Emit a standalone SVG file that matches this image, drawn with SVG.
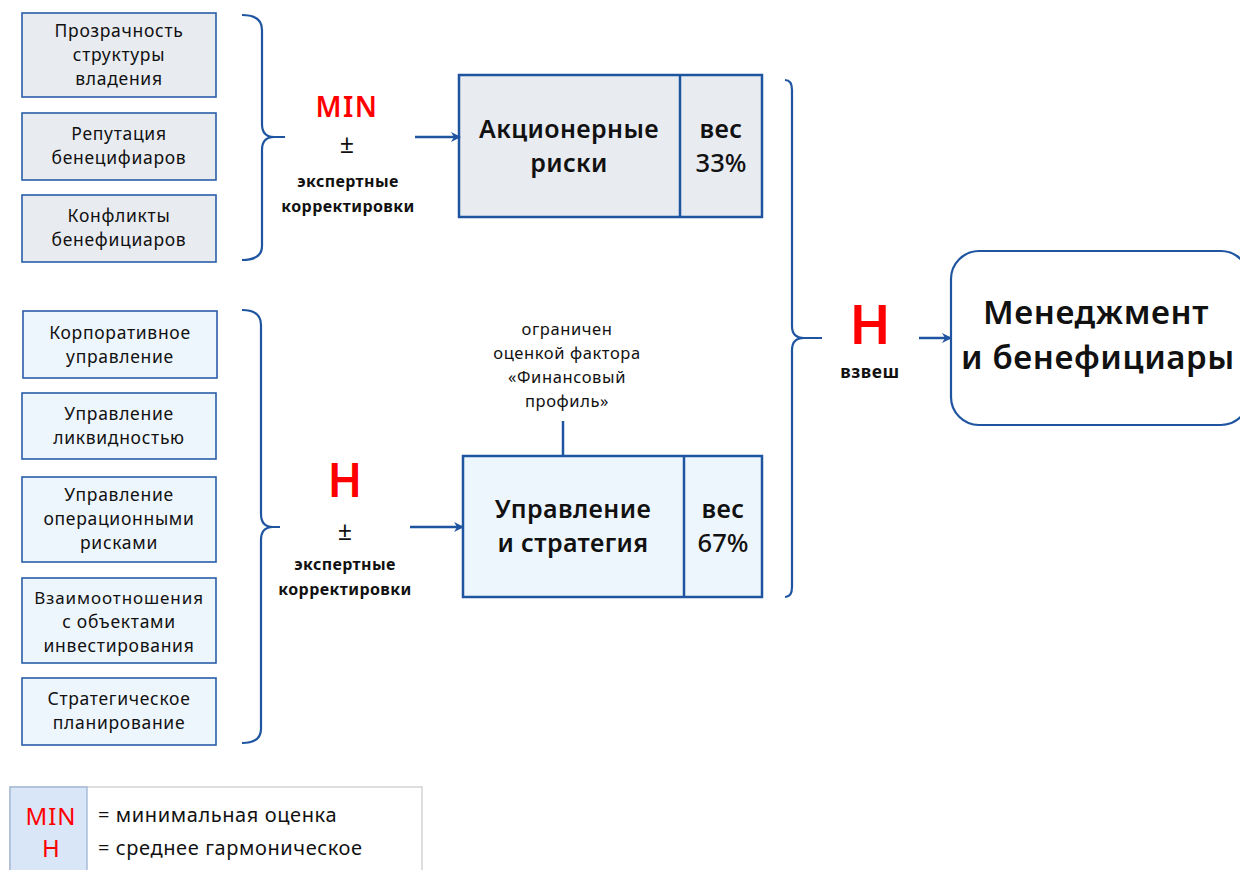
<svg xmlns="http://www.w3.org/2000/svg" width="1240" height="870" viewBox="0 0 1240 870">
<defs>
<marker id="arr" viewBox="0 0 10 10" refX="9" refY="5" markerWidth="10" markerHeight="10" markerUnits="userSpaceOnUse" orient="auto">
<path d="M0,0 L10,5 L0,10 L3,5 z" fill="#1f55a0"/>
</marker>
<style>
text{font-family:"Noto Sans","Open Sans","DejaVu Sans",sans-serif;fill:#111;text-anchor:middle}
.f{fill:#e8ebf0;stroke:#2a5ea8;stroke-width:1.6}
.g{fill:#eef6fd;stroke:#2a5ea8;stroke-width:1.6}
.big{stroke:#1f55a0;stroke-width:2.5}
.t{font-size:17.5px;letter-spacing:0.7px}
.b{font-size:25px;font-weight:600;letter-spacing:0.4px}
.brace{fill:none;stroke:#1f55a0;stroke-width:2.2}
.ln{fill:none;stroke:#1f55a0;stroke-width:2.5}
.red{fill:#ff0000;font-weight:600}
.ek{font-size:16px;font-weight:700;letter-spacing:0.4px}
.pm{font-size:25px}
.an{font-size:16.5px;letter-spacing:0.6px}
</style>
</defs>
<rect width="1240" height="870" fill="#ffffff"/>

<g id="n1"><rect class="f" x="22" y="13" width="194" height="84"/><text class="t" x="119" y="37">Прозрачность</text><text class="t" x="119" y="61">структуры</text><text class="t" x="119" y="85">владения</text></g>
<g id="n2"><rect class="f" x="22" y="113" width="194" height="67"/><text class="t" x="119" y="140">Репутация</text><text class="t" x="119" y="164">бенецифиаров</text></g>
<g id="n3"><rect class="f" x="22" y="195" width="194" height="67"/><text class="t" x="119" y="222">Конфликты</text><text class="t" x="119" y="246">бенефициаров</text></g>

<g id="n4"><rect class="g" x="23" y="311" width="194" height="67"/><text class="t" x="120" y="339">Корпоративное</text><text class="t" x="120" y="363">управление</text></g>
<g id="n5"><rect class="g" x="22" y="393" width="194" height="66"/><text class="t" x="119" y="420">Управление</text><text class="t" x="119" y="444">ликвидностью</text></g>
<g id="n6"><rect class="g" x="22" y="477" width="194" height="85"/><text class="t" x="119" y="501">Управление</text><text class="t" x="119" y="525">операционными</text><text class="t" x="119" y="549">рисками</text></g>
<g id="n7"><rect class="g" x="22" y="578" width="194" height="85"/><text class="t" x="119" y="604" style="font-size:17px;letter-spacing:0.9px">Взаимоотношения</text><text class="t" x="119" y="628">с объектами</text><text class="t" x="119" y="652">инвестирования</text></g>
<g id="n8"><rect class="g" x="22" y="678" width="194" height="67"/><text class="t" x="119" y="705">Стратегическое</text><text class="t" x="119" y="729">планирование</text></g>

<g id="op1"><text class="red" x="347" y="117" style="font-size:28px;letter-spacing:1.5px">MIN</text><text class="pm" x="347" y="153">±</text><text class="ek" x="348" y="187">экспертные</text><text class="ek" x="348" y="212">корректировки</text></g>
<g id="op2"><text class="red" x="345" y="497" style="font-size:46px">H</text><text class="pm" x="345" y="540">±</text><text class="ek" x="345" y="570">экспертные</text><text class="ek" x="345" y="595">корректировки</text></g>
<g id="op3"><text class="red" x="870" y="344" style="font-size:55px">H</text><text x="870" y="378" style="font-size:17.5px;font-weight:700;letter-spacing:0.5px">взвеш</text></g>

<g id="n9"><rect class="f big" x="459" y="75" width="303" height="142"/><line class="big" x1="680" y1="75" x2="680" y2="217"/><text class="b" x="569" y="138">Акционерные</text><text class="b" x="569" y="172">риски</text><text class="b" x="721" y="138">вес</text><text x="721" y="172" style="font-size:25.5px;font-weight:500">33%</text></g>
<g id="n10"><rect class="g big" x="463" y="456" width="299" height="141"/><line class="big" x1="684" y1="456" x2="684" y2="597"/><text class="b" x="573" y="518">Управление</text><text class="b" x="573" y="552">и стратегия</text><text class="b" x="723" y="518">вес</text><text x="723" y="552" style="font-size:25.5px;font-weight:500">67%</text></g>

<g id="note"><text class="an" x="567" y="335">ограничен</text><text class="an" x="567" y="359">оценкой фактора</text><text class="an" x="567" y="383">«Финансовый</text><text class="an" x="567" y="407">профиль»</text></g>

<g id="n11"><rect x="951" y="251" width="298" height="174" rx="28" fill="#ffffff" stroke="#1f55a0" stroke-width="2.2"/><text x="1096" y="324" style="font-size:33px;font-weight:600;letter-spacing:0.6px">Менеджмент</text><text x="1098" y="369" style="font-size:33px;font-weight:600;letter-spacing:0.6px">и бенефициары</text></g>

<g id="connectors">
<path class="brace" d="M242,15 Q262,15 262,30 L262,124 Q262,137 274,137 L285,137 M274,137 Q262,137 262,150 L262,246 Q262,260 242,260"/>
<path class="brace" d="M242,310 Q261,310 261,325 L261,514 Q261,527 273,527 L280,527 M273,527 Q261,527 261,540 L261,729 Q261,743 242,743"/>
<path class="brace" d="M785,80 Q792,80 792,90 L792,326 Q792,338 804,338 L822,338 M804,338 Q792,338 792,350 L792,587 Q792,597 785,597"/>
<line class="ln" x1="415" y1="137" x2="460" y2="137" marker-end="url(#arr)"/>
<line class="ln" x1="410" y1="527" x2="463" y2="527" marker-end="url(#arr)"/>
<line class="ln" x1="919" y1="338" x2="951" y2="338" marker-end="url(#arr)"/>
<line class="ln" x1="563" y1="421" x2="563" y2="456"/>
</g>

<g id="legend">
<rect x="10" y="787" width="412" height="100" fill="#ffffff" stroke="#c8c8c8" stroke-width="1.2"/>
<rect x="10" y="787" width="77" height="100" fill="#d8e6f8" stroke="#9ab0d0" stroke-width="1.2"/>
<text x="51" y="825" style="font-size:24px;fill:#ff0000;letter-spacing:1px">MIN</text>
<text x="51" y="857" style="font-size:24px;fill:#ff0000">H</text>
<text x="98" y="822" style="font-size:20px;text-anchor:start;letter-spacing:0.6px">= минимальная оценка</text>
<text x="98" y="855" style="font-size:20px;text-anchor:start;letter-spacing:0.6px">= среднее гармоническое</text>
</g>
</svg>
